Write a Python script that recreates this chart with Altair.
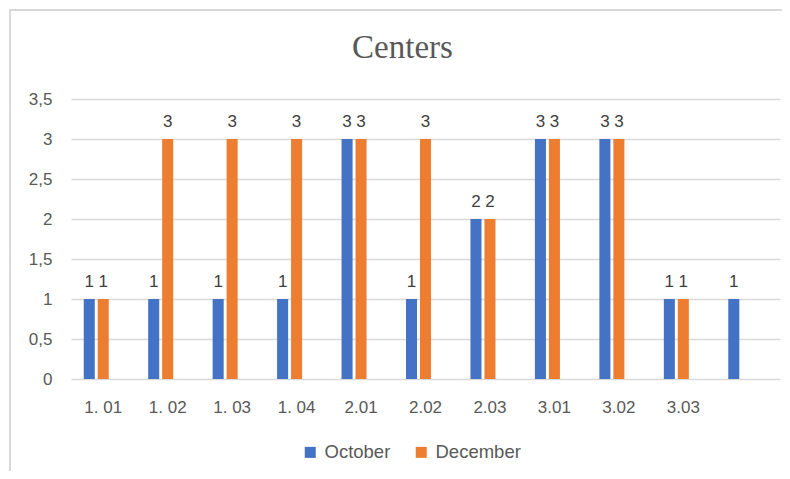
import altair as alt
import pandas as pd

categories = ["1. 01", "1. 02", "1. 03", "1. 04", "2.01", "2.02", "2.03", "3.01", "3.02", "3.03", " "]
october = [1, 1, 1, 1, 3, 1, 2, 3, 3, 1, 1]
december = [1, 3, 3, 3, 3, 3, 2, 3, 3, 1, None]
series = ["October", "December"]
colors = ["#4472C4", "#ED7D31"]
y_ticks = [0, 0.5, 1, 1.5, 2, 2.5, 3, 3.5]

rows = []
for i, c in enumerate(categories):
    for s, vals in zip(series, [october, december]):
        v = vals[i]
        if v is not None:
            rows.append({"cat": c, "series": s, "value": v})
df = pd.DataFrame(rows)

FONT = "Liberation Sans"
GRAY = "#595959"

x_enc = alt.X("cat:N", sort=categories,
              scale=alt.Scale(domain=categories, paddingInner=0.395, paddingOuter=0.1975),
              axis=alt.Axis(title=None, labelAngle=0, domain=False, ticks=False,
                            labelPadding=20, labelFontSize=17, labelColor=GRAY, labelFont=FONT))
xo_enc = alt.XOffset("series:N",
                     scale=alt.Scale(domain=["October", "December", "_blank"], paddingInner=0.21, paddingOuter=0))
y_enc = alt.Y("value:Q", scale=alt.Scale(domain=[0, 3.5], nice=False),
              axis=alt.Axis(title=None, values=y_ticks, domain=False, ticks=False,
                            labelExpr="replace(toString(datum.value), '.', ',')",
                            labelPadding=19, labelFontSize=17, labelColor=GRAY, labelFont=FONT,
                            gridColor="#d9d9d9", gridWidth=1.5))
color_enc = alt.Color("series:N", scale=alt.Scale(domain=series, range=colors),
                      legend=alt.Legend(title=None, orient="none", direction="horizontal",
                                        legendX=230, legendY=344, symbolType="square",
                                        symbolSize=121, symbolStrokeWidth=0, labelFontSize=18.5,
                                        labelColor=GRAY, labelFont=FONT, labelOffset=5,
                                        columnPadding=21))

base = alt.Chart(df).encode(x=x_enc, xOffset=xo_enc, y=y_enc)
bars = base.mark_bar().encode(color=color_enc)
labels = base.mark_text(baseline="bottom", dy=-8, fontSize=17, font=FONT, color="#404040").encode(
    text="value:Q")

frame = alt.Chart(pd.DataFrame({"a": [0]})).mark_rect(fill=None, stroke="#d9d9d9", strokeWidth=2).encode(
    x=alt.value(-61), x2=alt.value(800), y=alt.value(-89), y2=alt.value(500))

chart = alt.layer(frame, bars, labels).properties(
    width=709, height=280,
    title=alt.TitleParams("Centers", font="Liberation Serif", fontSize=33, fontWeight="normal",
                          color=GRAY, anchor="middle", dx=-23, offset=-56),
    autosize=alt.AutoSizeParams(type="none"),
    padding={"left": 63, "top": 91, "right": 2, "bottom": 92},
).configure_view(stroke=None)

chart.save("out.html", embed_options={"renderer": "svg", "actions": False})
